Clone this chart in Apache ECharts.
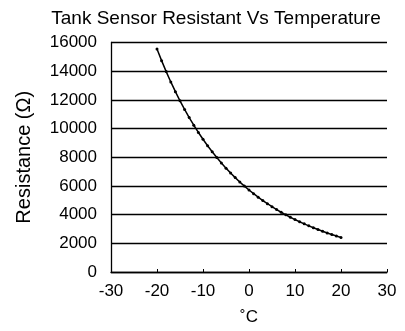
<!DOCTYPE html>
<html>
<head>
<meta charset="utf-8">
<script src="https://cdn.jsdelivr.net/npm/echarts@6/dist/echarts.min.js"></script>
<style>
  html, body { margin: 0; padding: 0; background: #fff; }
  #chart { width: 405px; height: 331px; }
</style>
</head>
<body>
<div id="chart"></div>
<script>
// Temperature (°C) and thermistor resistance (Ω) readings
const temperatures = [-20, -19, -18, -17, -16, -15, -14, -13, -12, -11, -10, -9, -8, -7, -6, -5, -4, -3, -2, -1,
  0, 1, 2, 3, 4, 5, 6, 7, 8, 9, 10, 11, 12, 13, 14, 15, 16, 17, 18, 19, 20];
const resistances = [15550, 14736, 13971, 13251, 12573, 11935, 11333, 10767, 10232, 9728, 9252, 8803, 8379, 7978, 7599, 7241, 6902, 6581, 6278, 5990,
  5718, 5460, 5215, 4983, 4763, 4554, 4355, 4167, 3988, 3818, 3656, 3502, 3356, 3216, 3084, 2958, 2837, 2723, 2614, 2509, 2410];

const titleText = 'Tank Sensor Resistant Vs Temperature';
const xAxisName = '˚C';
const yAxisName = 'Resistance (Ω)';

const font = 'Liberation Sans, Arial, sans-serif';
const points = temperatures.map((t, i) => [t, resistances[i]]);

const chart = echarts.init(document.getElementById('chart'), null, { renderer: 'canvas' });
chart.setOption({
  animation: false,
  backgroundColor: '#fff',
  title: {
    text: titleText,
    left: 211,
    textAlign: 'center',
    top: 4,
    textStyle: { fontFamily: font, fontSize: 19, fontWeight: 'normal', color: '#000' }
  },
  grid: { left: 111, right: 18, top: 42.5, bottom: 58, containLabel: false },
  xAxis: {
    type: 'value',
    min: -30, max: 30, interval: 10,
    name: xAxisName,
    nameLocation: 'middle',
    nameGap: 37,
    nameTextStyle: { fontFamily: font, fontSize: 17, color: '#000' },
    axisLine: { show: true, onZero: false, lineStyle: { color: '#000', width: 1.3 } },
    axisTick: { show: true, inside: true, length: 3, lineStyle: { color: '#000' } },
    axisLabel: { fontFamily: font, fontSize: 17, color: '#000', margin: 11 },
    splitLine: { show: false }
  },
  yAxis: {
    type: 'value',
    min: 0, max: 16000, interval: 2000,
    name: yAxisName,
    nameLocation: 'middle',
    nameGap: 77,
    nameRotate: 90,
    nameTextStyle: { fontFamily: font, fontSize: 20, color: '#000' },
    axisLine: { show: true, onZero: false, lineStyle: { color: '#000', width: 1.3 } },
    axisTick: { show: false },
    axisLabel: { fontFamily: font, fontSize: 17, color: '#000', margin: 14, formatter: v => String(v) },
    splitLine: { show: true, lineStyle: { color: '#000', width: 1.3 } }
  },
  series: [{
    type: 'line',
    data: points,
    smooth: false,
    symbol: 'circle',
    symbolSize: 3,
    showSymbol: true,
    itemStyle: { color: '#000' },
    lineStyle: { color: '#000', width: 1.5 }
  }]
});
</script>
</body>
</html>
